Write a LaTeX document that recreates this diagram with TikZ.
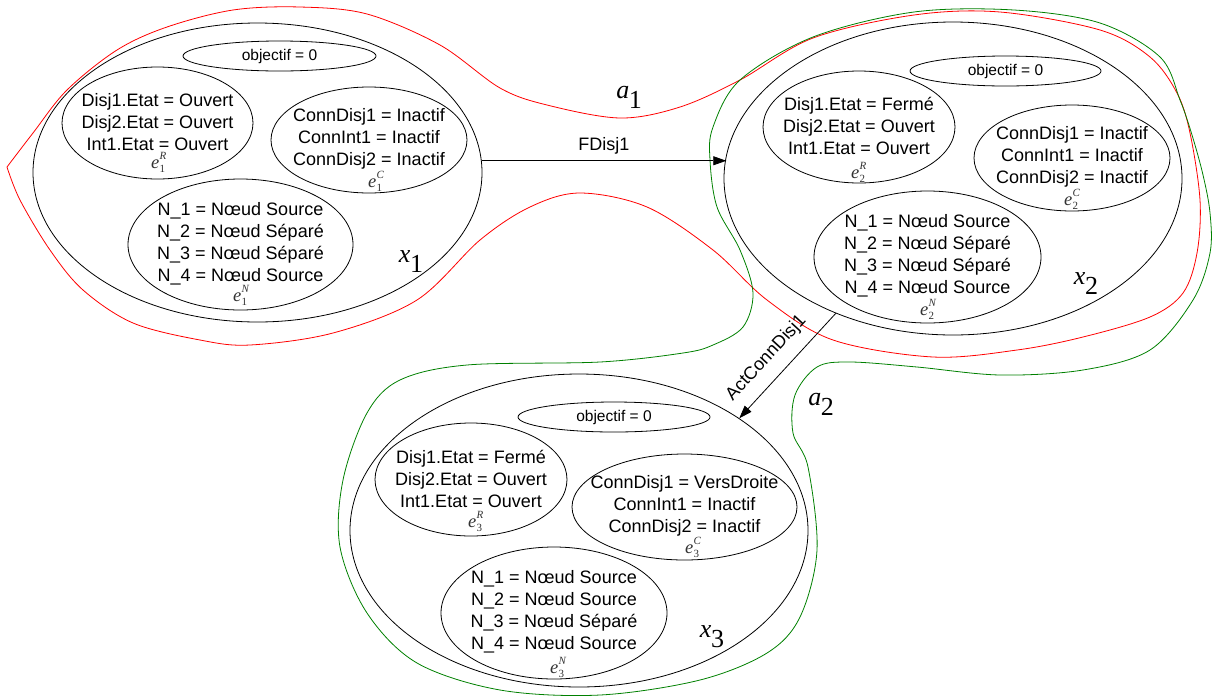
\documentclass[tikz,border=0pt]{standalone}
\usepackage{fontspec}
\setmainfont{Liberation Sans}
\newfontfamily\serifff{Liberation Serif}
\usetikzlibrary{shapes.geometric,arrows.meta,calc}
\definecolor{agreen}{RGB}{0,128,0}
\definecolor{ared}{RGB}{255,0,0}
\newcommand\elab[2]{{\serifff\itshape\fontsize{18.5}{18.5}\selectfont e\kern0.2pt\rlap{\raisebox{-4.5pt}{\upshape\fontsize{11}{11}\selectfont #1}}\raisebox{8.5pt}{\fontsize{11}{11}\selectfont #2}}}
\newcommand\xlab[2]{{\serifff\fontsize{26}{26}\selectfont\itshape #1\kern-0.5pt\raisebox{-10pt}{\upshape #2}}}
\begin{document}
\begin{tikzpicture}[x=1pt,y=-1pt,
  ell/.style={draw, ellipse, inner sep=0pt, line width=0.8pt},
  txt/.style={align=center, font=\fontsize{18}{22}\selectfont, inner sep=0pt},
  obj/.style={font=\fontsize{15.5}{18}\selectfont, inner sep=0pt},
  elbl/.style={text=black!80, inner sep=0pt, anchor=base west},
  xl/.style={inner sep=0pt},
  curve/.style={line width=0.8pt},
  arr/.style={-{Triangle[length=13pt,width=9pt]}, line width=0.8pt},
  arrlbl/.style={font=\fontsize{18}{22}\selectfont, inner sep=0pt}]
\useasboundingbox (0,0) rectangle (1214,697);

% red region a1
\draw[curve, ared] plot[smooth, tension=0.55] coordinates {
 (7,167) (33,133) (67,90) (117,50) (167,27) (233,10) (300,7) (367,14) (440,45) (500,88)
 (547,105) (620,118) (680,107) (740,80) (813,38) (914,15) (1000,12) (1100,30) (1150,57)
 (1177,93) (1190,133) (1200,200) (1197,253) (1183,293) (1150,317) (1083,337) (1017,350)
 (933,357) (833,340) (767,300) (713,250) (647,207) (580,193) (530,207) (480,240) (417,300)
 (333,333) (250,345) (200,340) (133,323) (83,290) (50,250) (20,200) (7,167)};

% green region a2
\draw[curve, agreen] plot[smooth cycle, tension=0.55] coordinates {
 (914,12) (1014,10) (1100,23) (1160,57) (1180,100) (1192,135) (1203,175) (1210,213)
 (1210,253) (1193,300) (1150,350) (1083,370) (1000,375) (917,367) (850,362) (817,367)
 (795,395) (793,433) (808,467) (817,550) (800,617) (767,653) (700,680) (600,695)
 (500,690) (417,663) (367,613) (340,547) (343,480) (367,413) (400,380) (467,365)
 (600,362) (683,353) (713,345) (743,327) (753,293) (740,250) (717,207) (710,160)
 (713,127) (740,80) (813,37)};

% ---------- state x1
\node[ell, minimum width=449pt, minimum height=299pt] (x1) at (257.5,172.5) {};
\node[ell, minimum width=193pt, minimum height=30pt] (o1) at (279.5,56) {};
\node[obj] (o1t) at (o1) {objectif = 0};
\node[ell, minimum width=191pt, minimum height=112pt] (r1) at (157.5,123) {};
\node[txt] (r1t) at (157.5,122) {Disj1.Etat = Ouvert\\Disj2.Etat = Ouvert\\Int1.Etat = Ouvert};
\node[elbl] (r1l) at (151,168) {\elab{1}{R}};
\node[ell, minimum width=196pt, minimum height=106pt] (c1) at (369,140) {};
\node[txt] (c1t) at (369,139) {ConnDisj1 = Inactif\\ConnInt1 = Inactif\\ConnDisj2 = Inactif};
\node[elbl] (c1l) at (368,187) {\elab{1}{C}};
\node[ell, minimum width=225pt, minimum height=131pt] (n1) at (240.5,244.5) {};
\node[txt] (n1t) at (240.5,243.5) {N\_1 = Nœud Source\\N\_2 = Nœud Séparé\\N\_3 = Nœud Séparé\\N\_4 = Nœud Source};
\node[elbl] (n1l) at (233,301) {\elab{1}{N}};
\node[xl] (x1l) at (411,262) {\xlab{x}{1}};

% ---------- state x2
\node[ell, minimum width=458pt, minimum height=313pt] (x2) at (953,178.5) {};
\node[ell, minimum width=191pt, minimum height=30pt] (o2) at (1005.5,71) {};
\node[obj] (o2t) at (o2) {objectif = 0};
\node[ell, minimum width=192pt, minimum height=112pt] (r2) at (859,127) {};
\node[txt] (r2t) at (859,126) {Disj1.Etat = Fermé\\Disj2.Etat = Ouvert\\Int1.Etat = Ouvert};
\node[elbl] (r2l) at (851,178) {\elab{2}{R}};
\node[ell, minimum width=196pt, minimum height=106pt] (c2) at (1072,158) {};
\node[txt] (c2t) at (1072,157) {ConnDisj1 = Inactif\\ConnInt1 = Inactif\\ConnDisj2 = Inactif};
\node[elbl] (c2l) at (1064,205) {\elab{2}{C}};
\node[ell, minimum width=227pt, minimum height=132pt] (n2) at (927.5,257) {};
\node[txt] (n2t) at (927.5,256) {N\_1 = Nœud Source\\N\_2 = Nœud Séparé\\N\_3 = Nœud Séparé\\N\_4 = Nœud Source};
\node[elbl] (n2l) at (920,315) {\elab{2}{N}};
\node[xl] (x2l) at (1086,284) {\xlab{x}{2}};

% ---------- state x3
\node[ell, minimum width=458pt, minimum height=313pt] (x3) at (579,530.5) {};
\node[ell, minimum width=192pt, minimum height=30pt] (o3) at (614,417) {};
\node[obj] (o3t) at (o3) {objectif = 0};
\node[ell, minimum width=192pt, minimum height=113pt] (r3) at (471,479.5) {};
\node[txt] (r3t) at (471,479) {Disj1.Etat = Fermé\\Disj2.Etat = Ouvert\\Int1.Etat = Ouvert};
\node[elbl] (r3l) at (468,527) {\elab{3}{R}};
\node[ell, minimum width=225pt, minimum height=106pt] (c3) at (684.5,507) {};
\node[txt] (c3t) at (684.5,506) {ConnDisj1 = VersDroite\\ConnInt1 = Inactif\\ConnDisj2 = Inactif};
\node[elbl] (c3l) at (685,553) {\elab{3}{C}};
\node[ell, minimum width=226pt, minimum height=132pt] (n3) at (554,613) {};
\node[txt] (n3t) at (554,612) {N\_1 = Nœud Source\\N\_2 = Nœud Source\\N\_3 = Nœud Séparé\\N\_4 = Nœud Source};
\node[elbl] (n3l) at (550,673) {\elab{3}{N}};
\node[xl] (x3l) at (712,637) {\xlab{x}{3}};

% ---------- region labels
\node[xl] (a1l) at (629,97) {\xlab{a}{1}};
\node[xl] (a2l) at (821,404) {\xlab{a}{2}};

% ---------- transitions
\draw[arr] (x1.3.7) -- (x1.3.7 -| x2.174.8) node[arrlbl, midway, above=6pt] (f1) {FDisj1};
\draw[arr] (x2.229.9) -- (x3.35.7) node[arrlbl, pos=0.56, sloped, above=12pt] (f2) {ActConnDisj1};
\end{tikzpicture}
\end{document}
